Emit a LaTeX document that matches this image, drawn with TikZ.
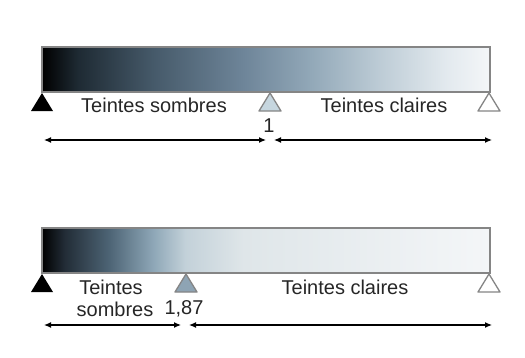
\documentclass[tikz,border=0pt]{standalone}
\usepackage{fontspec}
\setmainfont{Liberation Sans}
\usetikzlibrary{arrows.meta}
\definecolor{barline}{HTML}{858585}
\definecolor{txt}{HTML}{262626}
\definecolor{tA}{HTML}{1E2A33}
\definecolor{tB}{HTML}{465A6A}
\definecolor{tC}{HTML}{6E8599}
\definecolor{tD}{HTML}{92A8B8}
\definecolor{tE}{HTML}{BCCBD5}
\definecolor{tF}{HTML}{E2E9EE}
\definecolor{tG}{HTML}{F4F6F8}
\definecolor{bA}{HTML}{222C36}
\definecolor{bB}{HTML}{4D6475}
\definecolor{bC}{HTML}{8FA8B8}
\definecolor{bD}{HTML}{C3D1D9}
\definecolor{bE}{HTML}{DFE6E9}
\definecolor{midtopfill}{HTML}{C6D6DF}
\definecolor{midbotfill}{HTML}{8EA4B4}
% positions: 25bp + 50bp * fraction
\pgfdeclarehorizontalshading{topgrad}{100bp}{
  color(0bp)=(black); color(25bp)=(black); color(29bp)=(tA); color(37.5bp)=(tB);
  color(47.5bp)=(tC); color(55bp)=(tD); color(62.5bp)=(tE); color(70bp)=(tF);
  color(75bp)=(tG); color(100bp)=(tG)}
\pgfdeclarehorizontalshading{botgrad}{100bp}{
  color(0bp)=(black); color(25bp)=(black); color(27.5bp)=(bA); color(32.5bp)=(bB);
  color(37.5bp)=(bC); color(41bp)=(bD); color(47.5bp)=(bE); color(75bp)=(tG); color(100bp)=(tG)}
\begin{document}
\begin{tikzpicture}[x=1pt,y=-1pt,
  bar/.style={draw=barline,line width=1.5pt},
  tri/.style={draw=barline,line width=1.3pt,line join=round},
  lbl/.style={text=txt,font=\fontsize{20}{22}\selectfont,inner sep=0pt},
  dim/.style={line width=1.2pt,{Latex[length=7pt,width=6pt]}-{Latex[length=7pt,width=6pt]}}]
\useasboundingbox (0,0) rectangle (525,357);
% top bar
\shade[shading=topgrad] (42,47) rectangle (490,92);
\draw[bar] (42,47) rectangle (490,92);
\coordinate (t1) at (42,93);
\coordinate (t2) at (270,93);
\coordinate (t3) at (489,93);
\fill[black] (t1) -- ++(-11,18) -- ++(22,0) -- cycle;
\filldraw[tri,fill=midtopfill] (t2) -- ++(-11,18) -- ++(22,0) -- cycle;
\filldraw[tri,fill=white] (t3) -- ++(-11,18) -- ++(22,0) -- cycle;
\node[lbl] (ts) at (154,105) {Teintes sombres};
\node[lbl] (tc) at (384,105) {Teintes claires};
\node[lbl] (one) at (269,126) {1};
\coordinate (a1) at (44,140);
\coordinate (a2) at (266,140);
\coordinate (a3) at (274,140);
\coordinate (a4) at (492,140);
\draw[dim] (a1) -- (a2);
\draw[dim] (a3) -- (a4);
% bottom bar
\shade[shading=botgrad] (42,228) rectangle (490,273);
\draw[bar] (42,228) rectangle (490,273);
\coordinate (b1) at (42,274);
\coordinate (b2) at (186,274);
\coordinate (b3) at (489,274);
\fill[black] (b1) -- ++(-11,18) -- ++(22,0) -- cycle;
\filldraw[tri,fill=midbotfill] (b2) -- ++(-11,18) -- ++(22,0) -- cycle;
\filldraw[tri,fill=white] (b3) -- ++(-11,18) -- ++(22,0) -- cycle;
\node[lbl] (bs1) at (111,287) {Teintes};
\node[lbl] (bs2) at (115,309) {sombres};
\node[lbl] (bnum) at (184,309) {1,87};
\node[lbl] (bc) at (345,287) {Teintes claires};
\coordinate (c1) at (44,325);
\coordinate (c2) at (181,325);
\coordinate (c3) at (189,325);
\coordinate (c4) at (492,325);
\draw[dim] (c1) -- (c2);
\draw[dim] (c3) -- (c4);
\end{tikzpicture}
\end{document}
